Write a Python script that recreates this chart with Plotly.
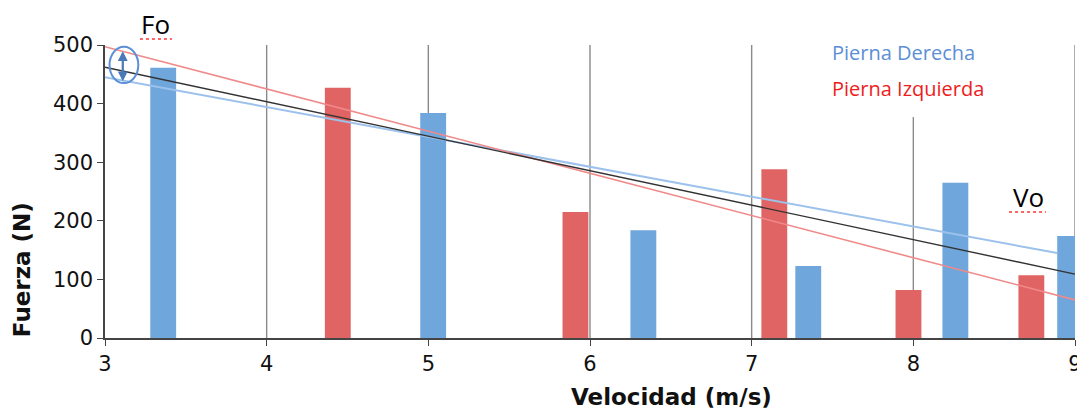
import plotly.graph_objects as go

# Bars: velocity (m/s) and force (N)
der_x = [3.36, 5.03, 6.33, 7.35, 8.26, 8.97]
der_y = [461, 384, 184, 123, 265, 174]
izq_x = [4.44, 5.91, 7.14, 7.97, 8.73]
izq_y = [427, 215, 288, 82, 107]

# Trend lines (endpoints)
trend_der_x = [3.0, 8.89]
trend_der_y = [445, 145]
trend_izq_x = [3.0, 9.0]
trend_izq_y = [497, 65]
trend_all_x = [3.0, 9.0]
trend_all_y = [462, 109]

# Vertical gridlines
grid_x = [4, 5, 6, 7, 8, 9]
grid_top = [500, 500, 500, 500, 377, 500]

x_ticks = [3, 4, 5, 6, 7, 8, 9]
y_ticks = [0, 100, 200, 300, 400, 500]

BLUE = "#6fa6db"
RED = "#e06464"

fig = go.Figure()
fig.add_trace(go.Bar(x=der_x, y=der_y, width=0.16, marker=dict(color=BLUE, line=dict(width=0)), name="Pierna Derecha"))
fig.add_trace(go.Bar(x=izq_x, y=izq_y, width=0.16, marker=dict(color=RED, line=dict(width=0)), name="Pierna Izquierda"))
fig.add_trace(go.Scatter(x=trend_der_x, y=trend_der_y, mode="lines", line=dict(color="#9cc2ec", width=2), cliponaxis=False))
fig.add_trace(go.Scatter(x=trend_izq_x, y=trend_izq_y, mode="lines", line=dict(color="#f08a8a", width=1.6)))
fig.add_trace(go.Scatter(x=trend_all_x, y=trend_all_y, mode="lines", line=dict(color="#333333", width=1.4)))

shapes = []
for gx, gt in zip(grid_x, grid_top):
    shapes.append(dict(type="line", xref="x", yref="y", x0=gx, x1=gx, y0=0, y1=gt,
                       line=dict(color="#8a8a8a", width=1.4), layer="below"))
# ellipse around Fo
shapes.append(dict(type="circle", xref="x", yref="y", x0=3.028, x1=3.206, y0=435, y1=497,
                   line=dict(color="#5b8fd6", width=2), layer="above"))
# spell-check squiggles under Fo and Vo
shapes.append(dict(type="line", xref="paper", yref="paper", x0=0.036, x1=0.069, y0=1.0205, y1=1.0205,
                   line=dict(color="#ff3030", width=1.5, dash="dot")))
shapes.append(dict(type="line", xref="paper", yref="paper", x0=0.932, x1=0.970, y0=0.430, y1=0.430,
                   line=dict(color="#ff3030", width=1.5, dash="dot")))
fig.update_layout(shapes=shapes)

tick_font = dict(family="DejaVu Sans", size=21, color="#111111")
title_font = dict(family="DejaVu Sans", size=23, color="#111111")

fig.update_layout(
    width=1077, height=412,
    margin=dict(l=105, r=2, t=45, b=74),
    paper_bgcolor="white", plot_bgcolor="white",
    showlegend=False, barmode="overlay",
    xaxis=dict(range=[3, 9], tickvals=x_ticks, showgrid=False, zeroline=False, automargin=False,
               showline=True, linecolor="#444444", linewidth=1.5,
               ticks="outside", ticklen=6, tickcolor="#444444",
               tickfont=tick_font, ticklabeloverflow="allow"),
    yaxis=dict(range=[0, 500], tickvals=y_ticks, showgrid=False, zeroline=False, automargin=False,
               showline=True, linecolor="#444444", linewidth=1.5,
               ticks="outside", ticklen=6, tickcolor="#444444",
               tickfont=tick_font),
)

# axis titles
fig.add_annotation(x=0.584, y=-0.201, xref="paper", yref="paper", text="<b>Velocidad (m/s)</b>",
                   showarrow=False, font=title_font, xanchor="center", yanchor="middle")
fig.add_annotation(x=-0.0854, y=0.232, xref="paper", yref="paper", text="<b>Fuerza (N)</b>",
                   showarrow=False, font=title_font, textangle=-90, xanchor="center", yanchor="middle")

ann_font = dict(family="Open Sans", size=26, color="black")
fig.add_annotation(x=3.315, y=500, xref="x", yref="y", text="Fo", showarrow=False,
                   font=ann_font, yshift=21)
fig.add_annotation(x=8.714, y=240, xref="x", yref="y", text="Vo", showarrow=False,
                   font=ann_font)
fig.add_annotation(x=3.11, y=438, xref="x", yref="y", ax=3.11, ay=492, axref="x", ayref="y",
                   text="", showarrow=True, arrowhead=2, arrowside="end+start",
                   arrowsize=0.9, arrowwidth=2.2, arrowcolor="#4a78b8")
fig.add_annotation(x=0.747, y=0.973, xref="paper", yref="paper", xanchor="left", yanchor="middle",
                   text="Pierna Derecha", showarrow=False,
                   font=dict(family="Open Sans", size=20, color="#5b8fd6"))
fig.add_annotation(x=0.747, y=0.853, xref="paper", yref="paper", xanchor="left", yanchor="middle",
                   text="Pierna Izquierda", showarrow=False,
                   font=dict(family="Open Sans", size=20, color="#ee1c1c"))

# remove the default 8px page margin so the figure fills the window exactly
fig.write_html("out.html", config={"displayModeBar": False},
               post_script="document.body.style.margin='0px';")
